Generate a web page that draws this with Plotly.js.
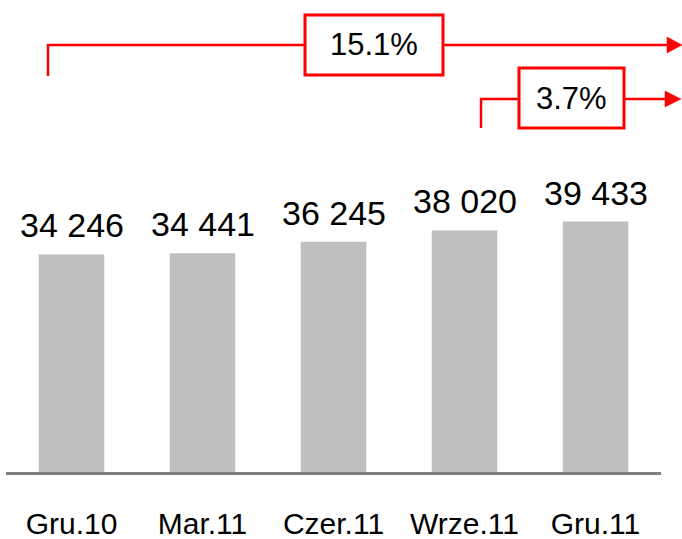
<!DOCTYPE html>
<html><head><meta charset="utf-8">
<script src="https://cdn.plot.ly/plotly-3.0.1.min.js"></script>
<style>html,body{margin:0;padding:0;background:#fff}</style>
</head><body><div id="chart" style="width:682px;height:539px"></div>
<script>
const categories = ['Gru.10', 'Mar.11', 'Czer.11', 'Wrze.11', 'Gru.11'];
const values = [34246, 34441, 36245, 38020, 39433];
const growthLabels = ['15.1%', '3.7%'];

const W = 682, H = 539, L = 6, R = 21, T = 0, B = 67;
const pw = W - L - R, ph = H - T - B;
function fx(x) { return (x - L) / pw; }
function fy(y) { return (H - B - y) / ph; }
function P(x, y) { return fx(x) + ',' + fy(y); }
function fmt(v) { return String(v).replace(/\B(?=(\d{3})+(?!\d))/g, ' '); }

const FONT = 'Liberation Sans, Arial, sans-serif';
const RED = '#FF0000';

const shapes = [];
const annotations = [];

// value labels
values.forEach(function (v, i) {
  annotations.push({
    x: categories[i], y: v, xref: 'x', yref: 'y',
    text: fmt(v), showarrow: false, yanchor: 'bottom', xanchor: 'center',
    yshift: 8, font: { family: FONT, size: 34, color: '#000' }
  });
});

// growth brackets
function bracket(x0, yb, yl, bx0, bx1, by0, by1, ax0, tip, ah, label) {
  shapes.push({ type: 'path', xref: 'paper', yref: 'paper',
    path: 'M' + P(x0, yb) + 'L' + P(x0, yl) + 'L' + P(bx0, yl),
    line: { color: RED, width: 2.5 } });
  shapes.push({ type: 'path', xref: 'paper', yref: 'paper',
    path: 'M' + P(bx1, yl) + 'L' + P(ax0 + 1, yl),
    line: { color: RED, width: 2.5 } });
  shapes.push({ type: 'path', xref: 'paper', yref: 'paper',
    path: 'M' + P(ax0, yl - ah) + 'L' + P(tip, yl) + 'L' + P(ax0, yl + ah) + 'Z',
    fillcolor: RED, line: { color: RED, width: 0.5 } });
  shapes.push({ type: 'rect', xref: 'paper', yref: 'paper',
    x0: fx(bx0), x1: fx(bx1), y0: fy(by1), y1: fy(by0),
    fillcolor: '#fff', line: { color: RED, width: 3 } });
  annotations.push({ xref: 'paper', yref: 'paper',
    x: fx((bx0 + bx1) / 2), y: fy((by0 + by1) / 2),
    text: label, showarrow: false, xanchor: 'center', yanchor: 'middle',
    font: { family: FONT, size: 31, color: '#000' } });
}
bracket(48, 76, 45, 305, 443, 15, 75, 667, 682, 8, growthLabels[0]);
bracket(481, 128, 99, 519, 624, 68, 128, 665, 681, 8, growthLabels[1]);

const data = [{
  type: 'bar', x: categories, y: values,
  marker: { color: '#BFBFBF', line: { width: 0 } },
  width: 0.5, hoverinfo: 'none'
}];

const layout = {
  width: W, height: H,
  margin: { l: L, r: R, t: T, b: B, pad: 0 },
  paper_bgcolor: '#fff', plot_bgcolor: '#fff',
  showlegend: false,
  xaxis: {
    type: 'category', range: [-0.5, 4.5], showline: true, linecolor: '#808080',
    linewidth: 2.5, ticks: '', showgrid: false, zeroline: false,
    ticklabelstandoff: 23,
    tickfont: { family: FONT, size: 30, color: '#000' }, fixedrange: true
  },
  yaxis: {
    range: [0, 74300], visible: false, showgrid: false, zeroline: false, fixedrange: true
  },
  shapes: shapes,
  annotations: annotations
};

Plotly.newPlot('chart', data, layout, { staticPlot: true, displayModeBar: false });
</script>
</body></html>
